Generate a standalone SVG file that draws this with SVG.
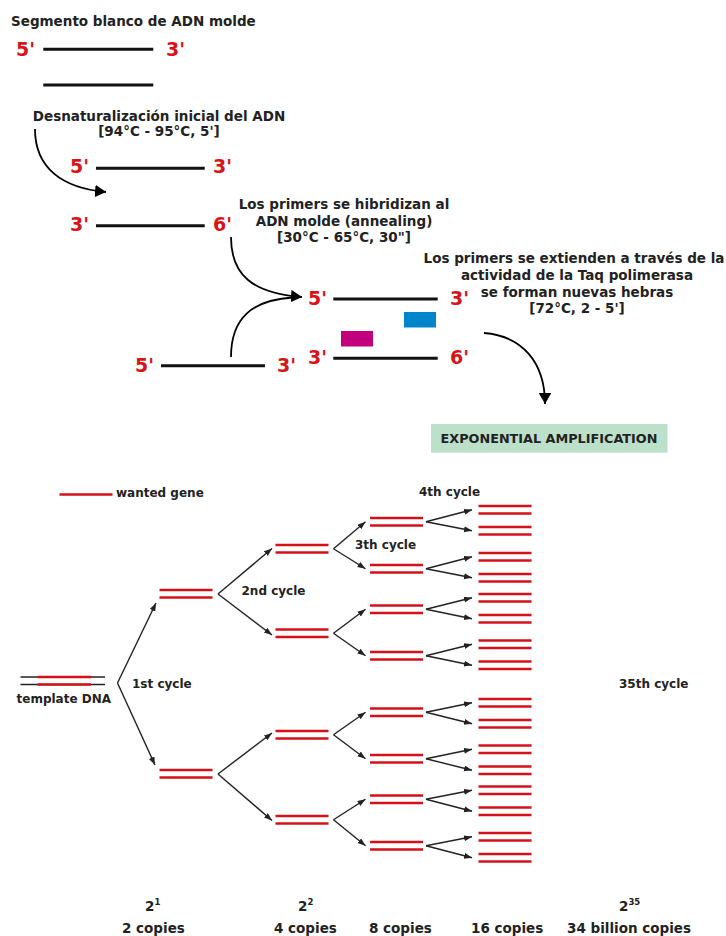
<svg xmlns="http://www.w3.org/2000/svg" width="726" height="936" viewBox="0 0 726 936">
<defs>
<style>
text{font-family:"DejaVu Sans",Verdana,sans-serif;font-weight:bold;fill:#222}
.t{font-size:13.5px}
.c{font-size:12px}
.m{text-anchor:middle}
.r{font-size:19px;fill:#d7141a}
.s{stroke:#111;stroke-width:3}
.g{stroke:#d4111a;stroke-width:2.6}
.a{stroke:#222;stroke-width:1.4;fill:none;marker-end:url(#ah)}
.k{stroke:#000;stroke-width:1.8;fill:none}
</style>
<marker id="ah" markerUnits="userSpaceOnUse" markerWidth="9" markerHeight="7" refX="8" refY="3" orient="auto"><path d="M0,0 L8,3 L0,6 z" fill="#222"/></marker>
<marker id="big" markerUnits="userSpaceOnUse" markerWidth="12" markerHeight="13" refX="11" refY="6.25" orient="auto"><path d="M0,0 L11,6.25 L0,12.5 z" fill="#000"/></marker>
<g id="pair"><line x1="0" y1="0" x2="53" y2="0"/><line x1="0" y1="7.5" x2="53" y2="7.5"/></g>
</defs>
<rect width="726" height="936" fill="#fff"/>

<g id="top-title"><text class="t" x="11" y="26">Segmento blanco de ADN molde</text></g>
<g id="strand-initial">
<text class="r" x="16" y="56">5'</text><text class="r" x="166" y="56">3'</text>
<line class="s" x1="43.3" y1="49.3" x2="153.3" y2="49.3"/>
<line class="s" x1="43.3" y1="85" x2="153.3" y2="85"/>
</g>
<g id="step-denature"><text class="t m" x="159" y="121">Desnaturalización inicial del ADN</text><text class="t m" x="159" y="136">[94°C - 95°C, 5']</text></g>
<g id="strand-separated">
<text class="r" x="70" y="173">5'</text><line class="s" x1="96" y1="168.3" x2="204.7" y2="168.3"/><text class="r" x="213" y="173">3'</text>
<text class="r" x="70" y="231">3'</text><line class="s" x1="96" y1="225.7" x2="204.7" y2="225.7"/><text class="r" x="213" y="231">6'</text>
</g>
<g id="step-annealing"><text class="t m" x="344" y="209">Los primers se hibridizan al</text><text class="t m" x="344" y="226">ADN molde (annealing)</text><text class="t m" x="344" y="242">[30°C - 65°C, 30"]</text></g>
<g id="strand-annealed">
<text class="r" x="308" y="305">5'</text><line class="s" x1="333.3" y1="299" x2="437.7" y2="299"/><text class="r" x="450" y="305">3'</text>
<rect x="404" y="312" width="32" height="15.5" fill="#0085cb"/>
<rect x="341" y="331" width="32" height="15.5" fill="#c2007f"/>
<text class="r" x="308" y="364">3'</text><line class="s" x1="333.3" y1="358.3" x2="437.7" y2="358.3"/><text class="r" x="450" y="364">6'</text>
</g>
<g id="strand-lower">
<text class="r" x="135" y="372">5'</text><line class="s" x1="161" y1="365.7" x2="265" y2="365.7"/><text class="r" x="277" y="372">3'</text>
</g>
<g id="step-extension"><text class="t m" x="574" y="263">Los primers se extienden a través de la</text><text class="t m" x="577" y="279.5">actividad de la Taq polimerasa</text><text class="t m" x="577" y="296.5">se forman nuevas hebras</text><text class="t m" x="577" y="313">[72°C, 2 - 5']</text></g>
<g id="exp-box"><rect x="431" y="424" width="236.5" height="28.7" fill="#bde0cb"/><text class="m" x="549" y="443" font-size="12.8">EXPONENTIAL AMPLIFICATION</text></g>

<g id="connectors-top">
<path class="k" d="M35,129 C35,168 62,188 106,192" marker-end="url(#big)"/>
<path class="k" d="M231,237 C231,275 252,293 302,297" marker-end="url(#big)"/>
<path class="k" d="M231,357 C231,318 252,300 293,297.5"/>
<path class="k" d="M484,333 C522,336 545,362 545,404" marker-end="url(#big)"/>
</g>

<g id="legend"><line class="g" x1="59.5" y1="494.5" x2="112.5" y2="494.5"/><text class="c" x="116" y="497">wanted gene</text></g>
<g id="template">
<line stroke="#222" stroke-width="1.5" x1="20.5" y1="677" x2="105" y2="677"/>
<line stroke="#222" stroke-width="1.5" x1="20.5" y1="684.5" x2="105" y2="684.5"/>
<line class="g" x1="37.5" y1="677" x2="91" y2="677"/>
<line class="g" x1="37.5" y1="684.5" x2="91" y2="684.5"/>
<text class="c" x="16.5" y="703">template DNA</text>
</g>
<g id="cycle-labels">
<text class="c" x="132" y="688">1st cycle</text>
<text class="c" x="241.5" y="595">2nd cycle</text>
<text class="c" x="355" y="549">3th cycle</text>
<text class="c" x="419" y="496">4th cycle</text>
<text class="c" x="619" y="688">35th cycle</text>
</g>
<g id="level1" class="g">
<use href="#pair" x="159.5" y="590"/><use href="#pair" x="159.5" y="770"/>
</g>
<g id="level2" class="g">
<use href="#pair" x="275.5" y="545"/><use href="#pair" x="275.5" y="629.5"/><use href="#pair" x="275.5" y="731"/><use href="#pair" x="275.5" y="816"/>
</g>
<g id="level3" class="g">
<use href="#pair" x="370" y="518"/><use href="#pair" x="370" y="565"/><use href="#pair" x="370" y="605.5"/><use href="#pair" x="370" y="652"/>
<use href="#pair" x="370" y="708.5"/><use href="#pair" x="370" y="755"/><use href="#pair" x="370" y="795.5"/><use href="#pair" x="370" y="842"/>
</g>
<g id="level4" class="g">
<use href="#pair" x="478.5" y="506"/><use href="#pair" x="478.5" y="527"/><use href="#pair" x="478.5" y="553"/><use href="#pair" x="478.5" y="574"/>
<use href="#pair" x="478.5" y="594"/><use href="#pair" x="478.5" y="615"/><use href="#pair" x="478.5" y="640.5"/><use href="#pair" x="478.5" y="661.5"/>
<use href="#pair" x="478.5" y="699"/><use href="#pair" x="478.5" y="720"/><use href="#pair" x="478.5" y="745.5"/><use href="#pair" x="478.5" y="766.5"/>
<use href="#pair" x="478.5" y="786.5"/><use href="#pair" x="478.5" y="807.5"/><use href="#pair" x="478.5" y="833"/><use href="#pair" x="478.5" y="854"/>
</g>
<g id="connectors-tree">
<line class="a" x1="117.5" y1="683" x2="156" y2="603"/>
<line class="a" x1="117.5" y1="683" x2="155" y2="765"/>
<line class="a" x1="218" y1="594" x2="272" y2="548.5"/>
<line class="a" x1="218" y1="594" x2="272" y2="635"/>
<line class="a" x1="218" y1="774" x2="272" y2="733"/>
<line class="a" x1="218" y1="774" x2="272" y2="820.5"/>
<line class="a" x1="333.5" y1="548.75" x2="365.5" y2="521.75"/>
<line class="a" x1="333.5" y1="548.75" x2="365.5" y2="568.75"/>
<line class="a" x1="333.5" y1="633.25" x2="365.5" y2="609.25"/>
<line class="a" x1="333.5" y1="633.25" x2="365.5" y2="655.75"/>
<line class="a" x1="333.5" y1="734.75" x2="365.5" y2="712.25"/>
<line class="a" x1="333.5" y1="734.75" x2="365.5" y2="758.75"/>
<line class="a" x1="333.5" y1="819.75" x2="365.5" y2="799.25"/>
<line class="a" x1="333.5" y1="819.75" x2="365.5" y2="845.75"/>
<line class="a" x1="426" y1="521.75" x2="472" y2="509.75"/>
<line class="a" x1="426" y1="521.75" x2="472" y2="530.75"/>
<line class="a" x1="426" y1="568.75" x2="472" y2="556.75"/>
<line class="a" x1="426" y1="568.75" x2="472" y2="577.75"/>
<line class="a" x1="426" y1="609.25" x2="472" y2="597.75"/>
<line class="a" x1="426" y1="609.25" x2="472" y2="618.75"/>
<line class="a" x1="426" y1="655.75" x2="472" y2="644.25"/>
<line class="a" x1="426" y1="655.75" x2="472" y2="665.25"/>
<line class="a" x1="426" y1="712.25" x2="472" y2="702.75"/>
<line class="a" x1="426" y1="712.25" x2="472" y2="723.75"/>
<line class="a" x1="426" y1="758.75" x2="472" y2="749.25"/>
<line class="a" x1="426" y1="758.75" x2="472" y2="770.25"/>
<line class="a" x1="426" y1="799.25" x2="472" y2="790.25"/>
<line class="a" x1="426" y1="799.25" x2="472" y2="811.25"/>
<line class="a" x1="426" y1="845.75" x2="472" y2="836.75"/>
<line class="a" x1="426" y1="845.75" x2="472" y2="857.75"/>
</g>
<g id="counts">
<text class="t" x="145" y="911">2<tspan font-size="8.5" dy="-6">1</tspan></text>
<text class="t" x="298" y="911">2<tspan font-size="8.5" dy="-6">2</tspan></text>
<text class="t" x="619" y="911">2<tspan font-size="8.5" dy="-6">35</tspan></text>
<text class="t" x="122" y="933">2 copies</text>
<text class="t" x="274" y="933">4 copies</text>
<text class="t" x="369" y="933">8 copies</text>
<text class="t" x="471" y="933">16 copies</text>
<text class="t" x="567" y="933">34 billion copies</text>
</g>
</svg>
